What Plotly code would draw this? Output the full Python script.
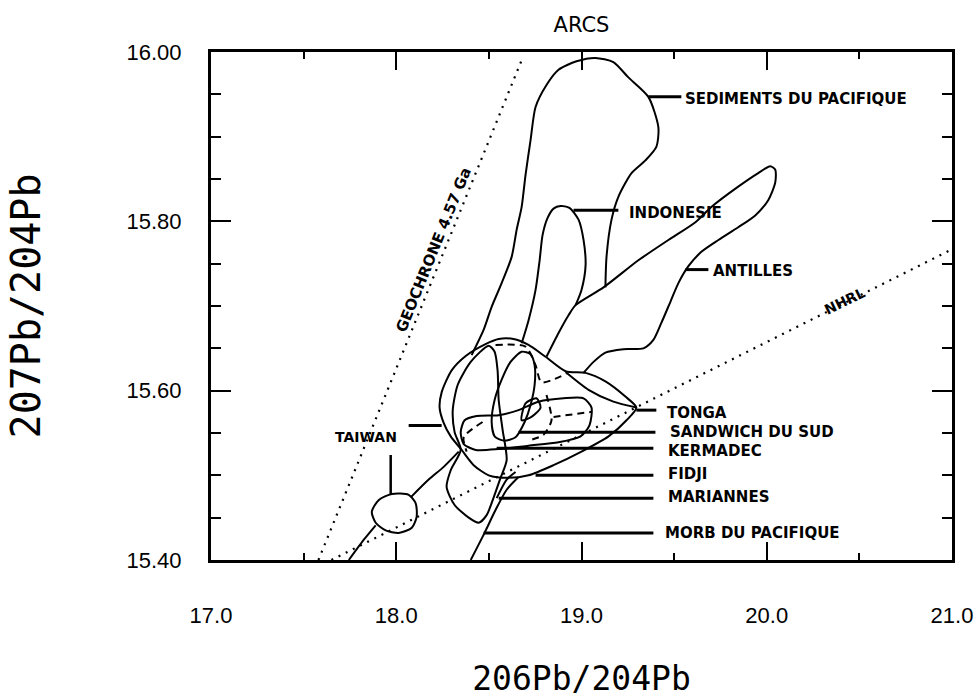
import plotly.graph_objects as go

# ---------------------------------------------------------------
# Pb isotope fields of island arcs: 206Pb/204Pb (x) vs 207Pb/204Pb (y)
# ---------------------------------------------------------------

# Pacific sediments (open outline, lower end merges into the arc cluster)
sediments_x = [18.407, 18.472, 18.515, 18.569, 18.623, 18.650, 18.677, 18.698, 18.725,
               18.752, 18.811, 18.876, 18.973, 19.075, 19.172, 19.253, 19.361, 19.415,
               19.404, 19.345, 19.270, 19.199, 19.162, 19.135, 19.129]
sediments_y = [15.642, 15.672, 15.699, 15.727, 15.758, 15.790, 15.817, 15.855, 15.896,
               15.935, 15.961, 15.979, 15.989, 15.993, 15.988, 15.970, 15.947, 15.911,
               15.888, 15.872, 15.857, 15.829, 15.802, 15.758, 15.722]

# Indonesia
indonesie_x = [18.677, 18.714, 18.752, 18.774, 18.790, 18.817, 18.849, 18.887, 18.935,
               18.984, 19.011, 19.022, 19.000, 18.968]
indonesie_y = [15.656, 15.683, 15.719, 15.754, 15.784, 15.804, 15.815, 15.818, 15.816,
               15.802, 15.778, 15.748, 15.719, 15.701]

# Lesser Antilles
antilles_x = [18.811, 18.876, 18.930, 18.968, 19.119, 19.307, 19.469, 19.615, 19.701,
              19.846, 19.954, 20.019, 20.046, 20.046, 20.008, 19.938, 19.846, 19.739,
              19.647, 19.577, 19.523, 19.480, 19.431, 19.388, 19.334, 19.226, 19.129,
              19.065, 19.011]
antilles_y = [15.640, 15.668, 15.689, 15.701, 15.722, 15.754, 15.778, 15.799, 15.817,
              15.841, 15.857, 15.865, 15.861, 15.846, 15.825, 15.807, 15.793, 15.778,
              15.764, 15.747, 15.727, 15.705, 15.680, 15.660, 15.650, 15.649, 15.645,
              15.634, 15.621]

# Fiji (large lens, closed)
fidji_x = [19.296, 19.237, 19.129, 19.022, 18.914, 18.806, 18.714, 18.633, 18.553,
           18.482, 18.375, 18.299, 18.245, 18.234, 18.256, 18.294, 18.353, 18.418,
           18.499, 18.606, 18.714, 18.849, 19.000, 19.146, 19.243]
fidji_y = [15.580, 15.593, 15.611, 15.621, 15.623, 15.640, 15.654, 15.661, 15.661,
           15.655, 15.641, 15.624, 15.598, 15.580, 15.562, 15.546, 15.530, 15.512,
           15.500, 15.497, 15.500, 15.512, 15.528, 15.546, 15.565]

# Tonga (thin lens closing on the Fiji tip)
tonga_x = [18.914, 19.038, 19.172, 19.296]
tonga_y = [15.622, 15.601, 15.587, 15.580]

# South Sandwich (closed)
sandwich_x = [18.677, 18.725, 18.747, 18.747, 18.725, 18.693, 18.644, 18.580, 18.531,
              18.515, 18.531, 18.569, 18.617]
sandwich_y = [15.646, 15.643, 15.630, 15.607, 15.583, 15.563, 15.545, 15.541, 15.546,
              15.563, 15.589, 15.613, 15.634]

# Kermadec (closed)
kermadec_x = [18.348, 18.369, 18.434, 18.553, 18.660, 18.768, 18.903, 19.011, 19.054,
              19.043, 18.995, 18.876, 18.714, 18.553, 18.429, 18.364]
kermadec_y = [15.551, 15.565, 15.570, 15.571, 15.577, 15.587, 15.591, 15.591, 15.580,
              15.559, 15.546, 15.539, 15.535, 15.531, 15.530, 15.537]

# Marianas (closed)
mariannes_x = [18.499, 18.402, 18.332, 18.305, 18.315, 18.348, 18.294, 18.272, 18.315,
               18.391, 18.445, 18.488, 18.526, 18.563, 18.596, 18.574, 18.553, 18.547,
               18.531]
mariannes_y = [15.653, 15.634, 15.607, 15.577, 15.551, 15.530, 15.506, 15.486, 15.465,
               15.450, 15.444, 15.453, 15.474, 15.497, 15.518, 15.554, 15.589, 15.624,
               15.646]

# small lobe beside the South Sandwich field (closed)
lobe_x = [18.698, 18.757, 18.779, 18.730, 18.677]
lobe_y = [15.585, 15.591, 15.580, 15.569, 15.565]

# Taiwan: isolated cluster plus the band running up into the arc cluster
taiwan_x = [17.868, 17.906, 17.976, 18.067, 18.105, 18.110, 18.084, 18.013, 17.943, 17.889]
taiwan_y = [15.457, 15.471, 15.478, 15.477, 15.467, 15.451, 15.438, 15.432, 15.435, 15.444]
taiwan_low_x = [17.744, 17.825, 17.889]
taiwan_low_y = [15.400, 15.424, 15.441]
taiwan_up_x = [18.078, 18.175, 18.256, 18.337]
taiwan_up_y = [15.474, 15.495, 15.510, 15.528]

# Pacific MORB band
morb_a_x = [18.402, 18.472, 18.536, 18.596, 18.660]
morb_a_y = [15.400, 15.430, 15.459, 15.483, 15.498]
morb_b_x = [18.542, 18.596, 18.644]
morb_b_y = [15.473, 15.495, 15.504]

# dashed field boundaries inside the cluster
dash_a_x = [18.536, 18.698, 18.752, 18.784, 18.919]
dash_a_y = [15.654, 15.652, 15.630, 15.610, 15.620]
dash_b_x = [18.811, 18.838, 18.795, 18.714]
dash_b_y = [15.595, 15.565, 15.548, 15.541]
dash_c_x = [18.849, 19.054]
dash_c_y = [15.569, 15.575]
dash_d_x = [18.466, 18.364, 18.380]
dash_d_y = [15.563, 15.545, 15.528]

# reference lines
geochrone_x = [17.58, 18.68]
geochrone_y = [15.400, 15.992]
nhrl_x = [17.65, 21.00]
nhrl_y = [15.400, 15.767]

# field labels with their horizontal leaders
label_names = ["SEDIMENTS DU PACIFIQUE", "INDONESIE", "ANTILLES", "TONGA",
               "SANDWICH DU SUD", "KERMADEC", "FIDJI", "MARIANNES", "MORB DU PACIFIQUE"]
label_x = [19.550, 19.243, 19.701, 19.453, 19.469, 19.458, 19.458, 19.458, 19.442]
label_y = [15.944, 15.810, 15.741, 15.574, 15.551, 15.529, 15.502, 15.474, 15.432]
leader_x0 = [19.361, 18.957, 19.561, 19.296, 18.660, 18.542, 18.752, 18.553, 18.472]
leader_x1 = [19.539, 19.199, 19.685, 19.404, 19.399, 19.388, 19.388, 19.388, 19.388]
leader_y = [15.947, 15.813, 15.743, 15.577, 15.551, 15.532, 15.500, 15.473, 15.432]

taiwan_label = (17.836, 15.545)
taiwan_leader_h = ([18.067, 18.245], [15.559, 15.559])
taiwan_leader_v = ([17.970, 17.970], [15.524, 15.478])

x_ticks = [17.0, 18.0, 19.0, 20.0, 21.0]
y_ticks = [15.40, 15.60, 15.80, 16.00]

fig = go.Figure()


def closed(xs, ys):
    return xs + xs[:1], ys + ys[:1]


def add_line(xs, ys, width=2.0, dash="solid", shape="spline"):
    fig.add_trace(go.Scatter(
        x=xs, y=ys, mode="lines",
        line=dict(color="black", width=width, dash=dash, shape=shape, smoothing=0.7),
        hoverinfo="skip", showlegend=False))


# reference lines (dotted)
add_line(geochrone_x, geochrone_y, width=2.2, dash="2px,6px", shape="linear")
add_line(nhrl_x, nhrl_y, width=2.2, dash="2px,6px", shape="linear")

# open outlines
for xs, ys in [(sediments_x, sediments_y), (indonesie_x, indonesie_y),
               (antilles_x, antilles_y), (tonga_x, tonga_y),
               (taiwan_low_x, taiwan_low_y), (taiwan_up_x, taiwan_up_y),
               (morb_a_x, morb_a_y), (morb_b_x, morb_b_y)]:
    add_line(xs, ys)

# closed outlines
for xs, ys in [(fidji_x, fidji_y), (sandwich_x, sandwich_y), (kermadec_x, kermadec_y),
               (mariannes_x, mariannes_y), (lobe_x, lobe_y), (taiwan_x, taiwan_y)]:
    cx, cy = closed(xs, ys)
    add_line(cx, cy)

# dashed boundaries
for xs, ys in [(dash_a_x, dash_a_y), (dash_b_x, dash_b_y),
               (dash_c_x, dash_c_y), (dash_d_x, dash_d_y)]:
    add_line(xs, ys, width=2.0, dash="7px,5px")

# leaders
for x0, x1, y in zip(leader_x0, leader_x1, leader_y):
    add_line([x0, x1], [y, y], width=3, shape="linear")
add_line(*taiwan_leader_h, width=3, shape="linear")
add_line(*taiwan_leader_v, width=2.5, shape="linear")

label_font = dict(family="DejaVu Sans", size=15, color="black")
annotations = []
for name, x, y in zip(label_names, label_x, label_y):
    annotations.append(dict(x=x, y=y, xref="x", yref="y", text="<b>%s</b>" % name,
                            showarrow=False, xanchor="left", yanchor="middle",
                            font=label_font))
annotations.append(dict(x=taiwan_label[0], y=taiwan_label[1], xref="x", yref="y",
                        text="<b>TAIWAN</b>", showarrow=False, xanchor="center",
                        yanchor="middle", font=dict(family="DejaVu Sans", size=14, color="black")))
annotations.append(dict(x=18.202, y=15.766, xref="x", yref="y",
                        text="<b>GEOCHRONE 4.57 Ga</b>", showarrow=False, textangle=-68,
                        font=dict(family="DejaVu Sans", size=15, color="black")))
annotations.append(dict(x=20.42, y=15.706, xref="x", yref="y",
                        text="<b>NHRL</b>", showarrow=False, textangle=-26,
                        font=dict(family="DejaVu Sans", size=14, color="black")))

axis_common = dict(
    showline=True, linecolor="black", linewidth=3, mirror="ticks",
    ticks="inside", tickcolor="black", tickwidth=2,
    showgrid=False, zeroline=False, automargin=False,
    tickfont=dict(family="Liberation Sans", size=22, color="black"),
)

fig.update_layout(
    width=976, height=698,
    margin=dict(l=211, r=24, t=52, b=138, autoexpand=False),
    paper_bgcolor="white", plot_bgcolor="white",
    title=dict(text="ARCS", x=0.5, xref="paper", xanchor="center",
               y=0.965, yanchor="middle",
               font=dict(family="DejaVu Sans", size=21, color="black")),
    xaxis=dict(range=[17.0, 21.0], tickvals=x_ticks, tickformat=".1f", ticklen=18,
               ticklabelstandoff=34,
               minor=dict(dtick=0.5, tick0=17.0, ticklen=7, tickwidth=2,
                          ticks="inside", tickcolor="black"),
               title=dict(text="206Pb/204Pb", standoff=68,
                          font=dict(family="DejaVu Sans Mono", size=33, color="black")),
               **axis_common),
    yaxis=dict(range=[15.40, 16.00], tickvals=y_ticks, tickformat=".2f", ticklen=20,
               ticklabelstandoff=22,
               minor=dict(dtick=0.05, tick0=15.40, ticklen=10, tickwidth=2,
                          ticks="inside", tickcolor="black"),
               title=dict(text="207Pb/204Pb", standoff=74,
                          font=dict(family="DejaVu Sans Mono", size=40, color="black")),
               **axis_common),
    annotations=annotations,
)

fig.write_html("out.html")
